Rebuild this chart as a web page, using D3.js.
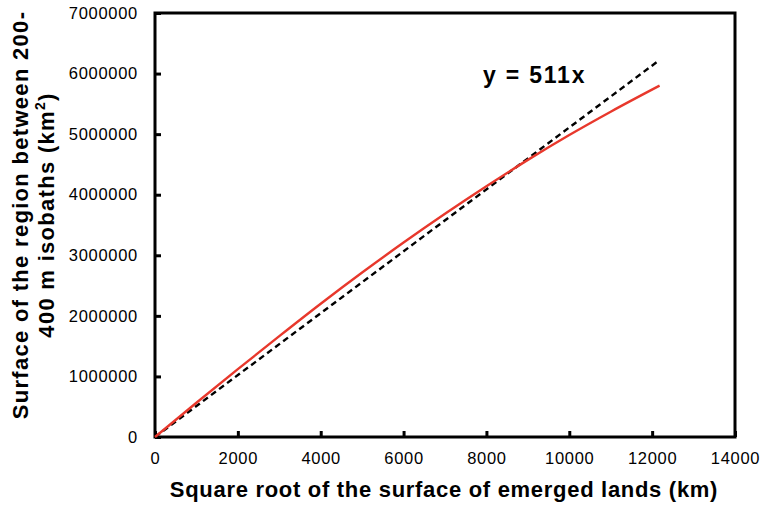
<!DOCTYPE html>
<html>
<head>
<meta charset="utf-8">
<script src="https://cdn.jsdelivr.net/npm/d3@7"></script>
<style>
  html, body { margin: 0; padding: 0; background: #fff; }
  svg { display: block; }
  text { font-family: "Liberation Sans", Arial, Helvetica, sans-serif; fill: #000; }
</style>
</head>
<body>
<script>
// Square root of emerged land surface (km) vs. area between the 200 and 400 m isobaths (km²)
const sqrtLandKm = [0, 1000, 2000, 3000, 4000, 5000, 6000, 7000, 8000, 9000, 10000, 11000, 12180];
const shelfAreaKm2 = [0, 565000, 1120000, 1665000, 2200000, 2715000, 3210000, 3685000, 4140000, 4575000, 4985000, 5370000, 5800000];

// Linear fit y = 511x, drawn over the same x range
const fitSlope = 511;
const fitX = [0, 12150];

const xTicks = [0, 2000, 4000, 6000, 8000, 10000, 12000, 14000];
const yTicks = [0, 1000000, 2000000, 3000000, 4000000, 5000000, 6000000, 7000000];

const W = 762, H = 506;
const margin = { left: 155, right: 27, top: 13, bottom: 69 };

const svg = d3.select("body").append("svg").attr("width", W).attr("height", H);

const x = d3.scaleLinear().domain([0, 14000]).range([margin.left, W - margin.right]);
const y = d3.scaleLinear().domain([0, 7000000]).range([H - margin.bottom, margin.top]);

// Axes with inward ticks
const xAxis = svg.append("g")
  .attr("transform", `translate(0,${y(0)})`)
  .call(d3.axisBottom(x).tickValues(xTicks).tickSize(-6).tickPadding(15).tickFormat(d3.format("d")));
const yAxis = svg.append("g")
  .attr("transform", `translate(${x(0)},0)`)
  .call(d3.axisLeft(y).tickValues(yTicks).tickSize(-6).tickPadding(17).tickFormat(d3.format("d")));

[xAxis, yAxis].forEach(g => {
  g.select(".domain").remove();
  g.selectAll(".tick line").attr("stroke", "#000").attr("stroke-width", 3);
  g.selectAll(".tick text")
    .style("font-size", "16.5px")
    .style("letter-spacing", "0.7px")
    .attr("fill", "#000");
});
xAxis.selectAll(".tick text").attr("dy", "0.71em");

// Plot frame
svg.append("rect")
  .attr("x", x(0)).attr("y", y(7000000))
  .attr("width", x(14000) - x(0)).attr("height", y(0) - y(7000000))
  .attr("fill", "none").attr("stroke", "#000").attr("stroke-width", 3);

// Fitted line (dashed)
svg.append("path")
  .datum(fitX)
  .attr("d", d3.line().x(d => x(d)).y(d => y(d * fitSlope)))
  .attr("fill", "none").attr("stroke", "#000")
  .attr("stroke-width", 2.4).attr("stroke-dasharray", "6,4");

// Observed curve
svg.append("path")
  .datum(d3.zip(sqrtLandKm, shelfAreaKm2))
  .attr("d", d3.line().x(d => x(d[0])).y(d => y(d[1])).curve(d3.curveMonotoneX))
  .attr("fill", "none").attr("stroke", "#e8382c").attr("stroke-width", 2.4);

// Equation label
svg.append("text")
  .attr("x", 483).attr("y", 83)
  .style("font-size", "23px").style("font-weight", "bold")
  .style("letter-spacing", "1.8px")
  .text("y = 511x");

// Axis titles
svg.append("text")
  .attr("x", (x(0) + x(14000)) / 2 - 1).attr("y", 497)
  .attr("text-anchor", "middle")
  .style("font-size", "22px").style("font-weight", "bold")
  .style("letter-spacing", "0.7px")
  .text("Square root of the surface of emerged lands (km)");

const yTitle = svg.append("text")
  .attr("transform", "translate(0,215) rotate(-90)")
  .attr("text-anchor", "middle")
  .style("font-size", "22px").style("font-weight", "bold")
  .style("letter-spacing", "1.3px");
yTitle.append("tspan").attr("x", 0).attr("y", 28).text("Surface of the region between 200-");
const l2 = yTitle.append("tspan").attr("x", 0).attr("y", 54).text("400 m isobaths (km");
l2.append("tspan").attr("dy", -9).style("font-size", "14px").text("2");
l2.append("tspan").attr("dy", 9).text(")");
</script>
</body>
</html>
